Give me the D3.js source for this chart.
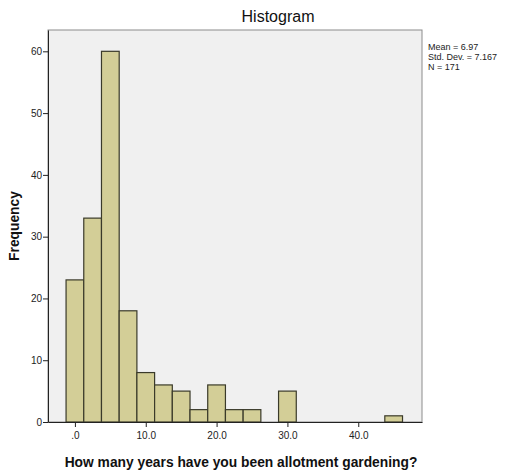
<!DOCTYPE html>
<html><head><meta charset="utf-8">
<script src="https://cdn.jsdelivr.net/npm/d3@7"></script>
<style>body{margin:0;background:#fff}text{font-family:"Liberation Sans",Arial,sans-serif}</style>
</head><body>
<script>
const binCenters = [0, 2.5, 5, 7.5, 10, 12.5, 15, 17.5, 20, 22.5, 25, 27.5, 30, 32.5, 35, 37.5, 40, 42.5, 45];
const counts     = [23, 33, 60, 18, 8, 6, 5, 2, 6, 2, 2, 0, 5, 0, 0, 0, 0, 0, 1];
const binWidth = 2.5;
const xTicks = [0, 10, 20, 30, 40];
const xTickLabels = [".0", "10.0", "20.0", "30.0", "40.0"];
const yTicks = [0, 10, 20, 30, 40, 50, 60];
const stats = ["Mean = 6.97", "Std. Dev. = 7.167", "N = 171"];

const W = 505, H = 471;
const svg = d3.select("body").append("svg").attr("width", W).attr("height", H);
const L = 48, R = 422, T = 30, B = 422;
const x = d3.scaleLinear().domain([-3.8, 49.0]).range([L, R]);
const y = d3.scaleLinear().domain([0, 63.45]).range([B, T]);

svg.append("rect").attr("x", L).attr("y", T).attr("width", R - L).attr("height", B - T)
  .attr("fill", "#f0f0f0").attr("stroke", "#8c8c8c").attr("stroke-width", 1);

svg.append("g").selectAll("rect").data(binCenters.map((c, i) => ({c, n: counts[i]})).filter(d => d.n > 0))
  .join("rect")
  .attr("x", d => x(d.c - binWidth / 2))
  .attr("y", d => y(d.n))
  .attr("width", d => x(d.c + binWidth / 2) - x(d.c - binWidth / 2))
  .attr("height", d => y(0) - y(d.n))
  .attr("fill", "#d3ce97").attr("stroke", "#3a3a2a").attr("stroke-width", 1.2);

const xAxis = svg.append("g").attr("transform", `translate(0,${B})`)
  .call(d3.axisBottom(x).tickValues(xTicks).tickFormat((d, i) => xTickLabels[i]).tickSize(5).tickSizeOuter(0));
xAxis.select(".domain").attr("stroke", "#222");
xAxis.selectAll("line").attr("stroke", "#222");
xAxis.selectAll("text").attr("font-size", 10).attr("fill", "#222").attr("dy", "0.9em");

const yAxis = svg.append("g").attr("transform", `translate(${L},0)`)
  .call(d3.axisLeft(y).tickValues(yTicks).tickSize(5).tickSizeOuter(0));
yAxis.select(".domain").attr("stroke", "#222");
yAxis.selectAll("line").attr("stroke", "#222");
yAxis.selectAll("text").attr("font-size", 10).attr("fill", "#222").attr("dx", "0.2em");

svg.append("text").attr("x", 278).attr("y", 22).attr("text-anchor", "middle")
  .attr("font-size", 16).attr("fill", "#111").text("Histogram");

svg.append("text").attr("transform", `translate(19,226) rotate(-90)`)
  .attr("text-anchor", "middle").attr("font-size", 13.8).attr("font-weight", "bold").attr("fill", "#111").text("Frequency");

svg.append("text").attr("x", 241).attr("y", 467).attr("text-anchor", "middle")
  .attr("font-size", 13.8).attr("font-weight", "bold").attr("fill", "#111").text("How many years have you been allotment gardening?");

svg.append("g").selectAll("text").data(stats).join("text")
  .attr("x", 428).attr("y", (d, i) => 50 + i * 10)
  .attr("font-size", 9).attr("fill", "#222").text(d => d);
</script>
</body></html>
